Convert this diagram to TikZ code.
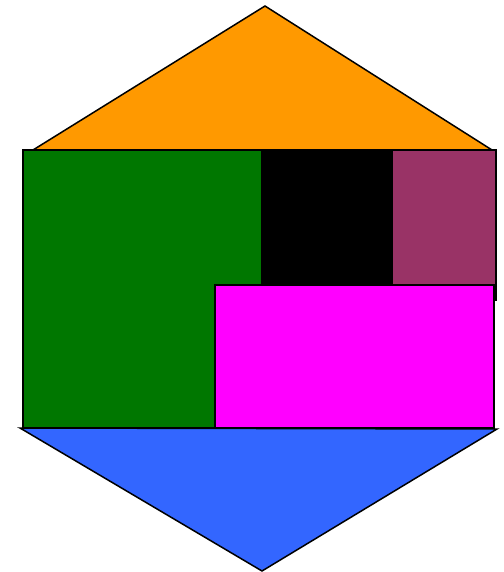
\documentclass[tikz,border=0pt]{standalone}
\begin{document}
\begin{tikzpicture}[x=1pt,y=-1pt,line join=miter,
  piece/.style={draw=black,line width=1.5pt}]
\definecolor{cOrange}{HTML}{FF9900}
\definecolor{cGreen}{HTML}{007700}
\definecolor{cPurple}{HTML}{993366}
\definecolor{cMagenta}{HTML}{FF00FF}
\definecolor{cBlue}{HTML}{3366FF}
\useasboundingbox (0,0) rectangle (503,572);
\fill[white] (0,0) rectangle (503,572);
% top triangle
\filldraw[piece,fill=cOrange] (33,150) -- (265,6) -- (492,150) -- cycle;
% green
\filldraw[piece,fill=cGreen] (23,150) rectangle (262,428);
% black
\filldraw[piece,fill=black] (262,150) rectangle (392,285);
% purple
\filldraw[piece,fill=cPurple] (392,150) rectangle (496,300);
% magenta
\filldraw[piece,fill=cMagenta] (215,285) rectangle (494,428);
% bottom triangle
\filldraw[piece,fill=cBlue] (20,428) -- (497,429) -- (262,571) -- cycle;
\end{tikzpicture}
\end{document}
